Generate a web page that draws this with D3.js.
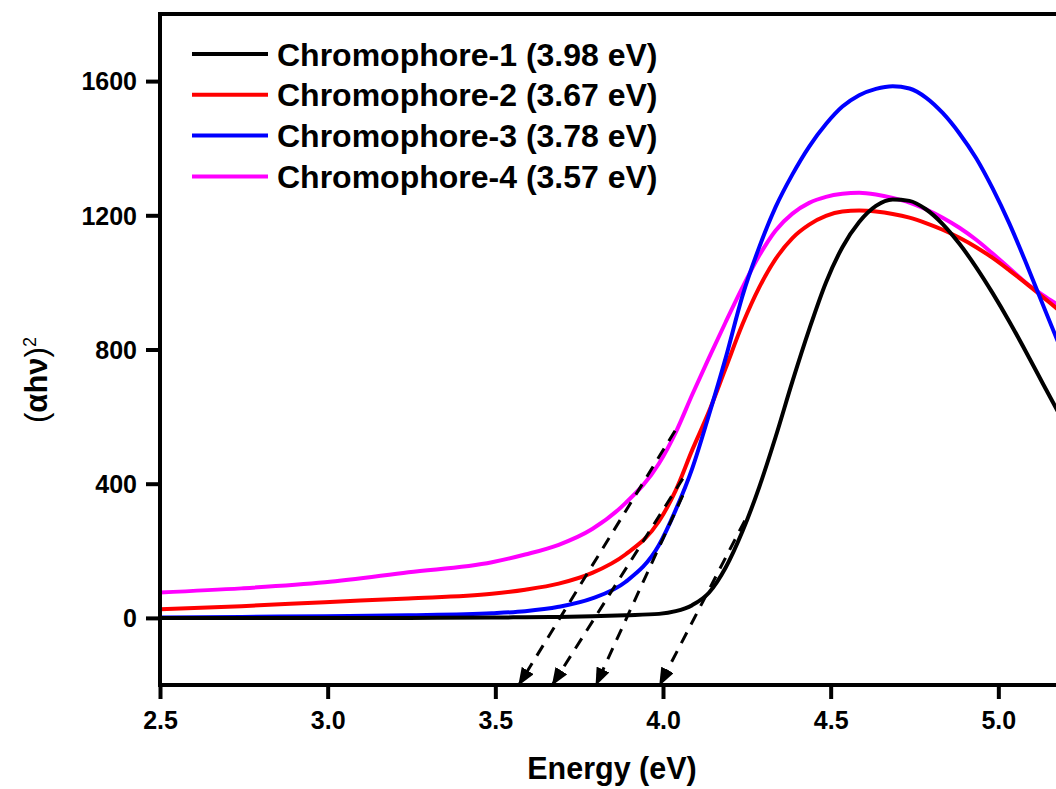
<!DOCTYPE html>
<html>
<head>
<meta charset="utf-8">
<script src="https://cdn.jsdelivr.net/npm/d3@7"></script>
<style>
  body { margin: 0; background: #fff; }
  svg { display: block; font-family: "Liberation Sans", Arial, sans-serif; }
</style>
</head>
<body>
<div id="chart"></div>
<script>
// Photon energy (eV) at which the curves were read
const energy = [2.5, 2.743, 2.992, 3.241, 3.490, 3.589, 3.689, 3.789, 3.888, 3.988,
  4.038, 4.087, 4.137, 4.187, 4.237, 4.287, 4.336, 4.386, 4.436, 4.486,
  4.535, 4.585, 4.635, 4.685, 4.735, 4.784, 4.834, 4.884, 4.934, 4.983,
  5.033, 5.083, 5.133, 5.183];

// (alpha h nu)^2 for each chromophore
const chromo1 = [0, 0, 0, 0, 1, 2, 3, 5, 8, 12, 20, 38, 75, 150, 258, 390, 540, 705, 860, 1000,
  1105, 1180, 1228, 1247, 1243, 1218, 1174, 1115, 1045, 968, 883, 792, 698, 605];
const chromo2 = [26, 35, 47, 58, 72, 84, 102, 134, 189, 288, 380, 500, 615, 745, 875, 985, 1070, 1132, 1172, 1198,
  1211, 1214, 1211, 1204, 1193, 1177, 1157, 1133, 1105, 1073, 1036, 997, 956, 915];
const chromo3 = [1, 3, 5, 8, 14, 20, 33, 58, 107, 217, 322, 445, 605, 775, 960, 1105, 1225, 1322, 1405, 1472,
  1524, 1558, 1577, 1585, 1578, 1551, 1505, 1444, 1370, 1280, 1175, 1057, 933, 810];
const chromo4 = [76, 88, 106, 136, 166, 189, 218, 265, 342, 460, 553, 665, 775, 882, 985, 1080, 1155, 1205, 1237, 1255,
  1264, 1267, 1262, 1252, 1238, 1218, 1193, 1163, 1127, 1086, 1042, 998, 962, 930];

const seriesNames = ["Chromophore-1 (3.98 eV)", "Chromophore-2 (3.67 eV)",
  "Chromophore-3 (3.78 eV)", "Chromophore-4 (3.57 eV)"];
const seriesColors = ["#000000", "#ff0000", "#0000ff", "#ff00ff"];

// Dashed tangent lines: upper point [energy, value] and band gap where the arrow lands
const tangentTop = [[4.036, 558], [4.059, 415], [4.059, 365], [4.244, 290]];
const tangentGap = [3.57, 3.67, 3.80, 3.99];

const xTicks = [2.5, 3.0, 3.5, 4.0, 4.5, 5.0];
const yTicks = [0, 400, 800, 1200, 1600];

const W = 1056, H = 789;
const plotLeft = 160, plotTop = 14, plotBottom = 685, plotRight = 1166;

const x = d3.scaleLinear().domain([2.5, 5.5]).range([plotLeft, plotRight]);
const y = d3.scaleLinear().domain([-200, 1800]).range([plotBottom, plotTop]);

const svg = d3.select("#chart").append("svg")
  .attr("width", W)
  .attr("height", H);

const defs = svg.append("defs");
defs.append("clipPath")
  .attr("id", "plot-clip")
  .append("rect")
  .attr("x", plotLeft).attr("y", plotTop)
  .attr("width", plotRight - plotLeft).attr("height", plotBottom - plotTop);

defs.append("marker")
  .attr("id", "arrow")
  .attr("markerUnits", "userSpaceOnUse")
  .attr("viewBox", "0 -7 18 14")
  .attr("refX", 17).attr("refY", 0)
  .attr("markerWidth", 18).attr("markerHeight", 14)
  .attr("orient", "auto")
  .append("path")
  .attr("d", "M0,-7L18,0L0,7Z")
  .attr("fill", "#000");

const plot = svg.append("g").attr("clip-path", "url(#plot-clip)");

// Curves
const allSeries = [chromo1, chromo2, chromo3, chromo4];
const line = d3.line()
  .x(d => x(d[0]))
  .y(d => y(d[1]))
  .curve(d3.curveMonotoneX);

// draw order: magenta, red, blue, black on top
[3, 1, 2, 0].forEach(i => {
  plot.append("path")
    .datum(energy.map((e, k) => [e, allSeries[i][k]]))
    .attr("fill", "none")
    .attr("stroke", seriesColors[i])
    .attr("stroke-width", 4)
    .attr("d", line);
});

// Tangent lines with arrows
tangentTop.forEach((p, i) => {
  svg.append("line")
    .attr("x1", x(p[0])).attr("y1", y(p[1]))
    .attr("x2", x(tangentGap[i])).attr("y2", y(-200))
    .attr("stroke", "#000")
    .attr("stroke-width", 3)
    .attr("stroke-dasharray", "12,9")
    .attr("marker-end", "url(#arrow)");
});

// Axes
const xAxis = svg.append("g")
  .attr("transform", `translate(0,${plotBottom})`)
  .call(d3.axisBottom(x).tickValues(xTicks).tickFormat(d3.format(".1f")).tickSize(14).tickPadding(12));
const yAxis = svg.append("g")
  .attr("transform", `translate(${plotLeft},0)`)
  .call(d3.axisLeft(y).tickValues(yTicks).tickFormat(d3.format("d")).tickSize(14).tickPadding(9));

[xAxis, yAxis].forEach(a => {
  a.select(".domain").remove();
  a.selectAll(".tick line").attr("stroke", "#000").attr("stroke-width", 4);
  a.selectAll(".tick text")
    .attr("fill", "#000")
    .style("font-size", "25px")
    .style("font-weight", "bold");
});
yAxis.selectAll(".tick text").attr("dy", "0.35em");

// Frame
svg.append("rect")
  .attr("x", plotLeft).attr("y", plotTop)
  .attr("width", plotRight - plotLeft).attr("height", plotBottom - plotTop)
  .attr("fill", "none")
  .attr("stroke", "#000")
  .attr("stroke-width", 4);

// Axis titles
svg.append("text")
  .attr("x", 612).attr("y", 779)
  .attr("text-anchor", "middle")
  .style("font-size", "30.5px")
  .style("font-weight", "bold")
  .text("Energy (eV)");

const yTitle = svg.append("text")
  .attr("transform", "translate(47,380) rotate(-90)")
  .attr("text-anchor", "middle")
  .style("font-size", "31px");
yTitle.append("tspan").text("(");
yTitle.append("tspan").style("font-weight", "bold").text("αhν");
yTitle.append("tspan").text(")");
yTitle.append("tspan").attr("dy", "-0.6em").style("font-size", "18px").text("2");

// Legend
const legend = svg.append("g");
seriesNames.forEach((name, i) => {
  const ly = 54 + i * 40.8;
  legend.append("line")
    .attr("x1", 192).attr("x2", 268)
    .attr("y1", ly).attr("y2", ly)
    .attr("stroke", seriesColors[i])
    .attr("stroke-width", 4);
  legend.append("text")
    .attr("x", 277).attr("y", ly)
    .attr("dy", "0.36em")
    .style("font-size", "32px")
    .style("font-weight", "bold")
    .text(name);
});
</script>
</body>
</html>
